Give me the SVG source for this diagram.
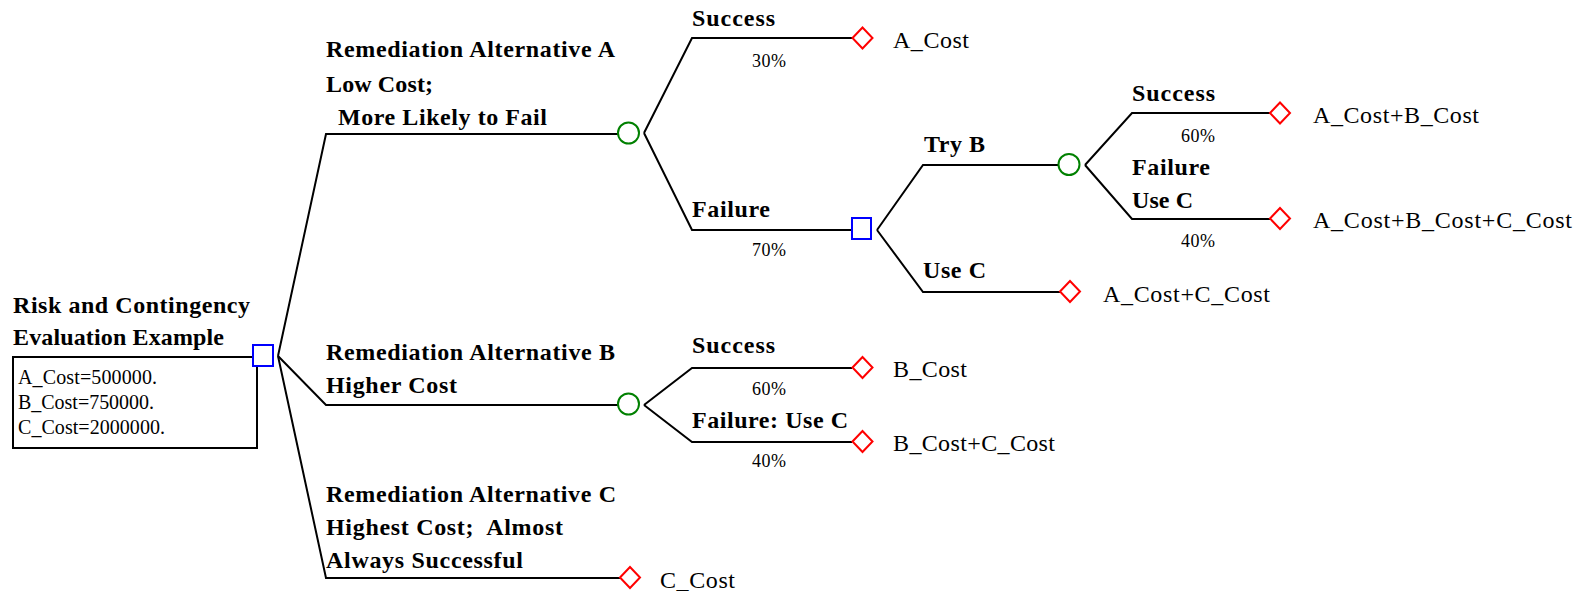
<svg xmlns="http://www.w3.org/2000/svg" width="1584" height="591" viewBox="0 0 1584 591">
<style>
.bg{fill:#ffffff}
.ln{fill:none;stroke:#000000;stroke-width:2}
.dec{fill:#ffffff;stroke:#0000ff;stroke-width:2}
.chn{fill:#ffffff;stroke:#008000;stroke-width:2}
.trm{fill:#ffffff;stroke:#ff0000;stroke-width:2}
.box{fill:#ffffff;stroke:#000000;stroke-width:2}
.b{font-family:"Liberation Serif","Times New Roman",serif;font-weight:bold;font-size:24px;fill:#000000;white-space:pre}
.r{font-family:"Liberation Serif","Times New Roman",serif;font-size:24px;fill:#000000}
.p{font-family:"Liberation Serif","Times New Roman",serif;font-size:18px;fill:#000000}
.v{font-family:"Liberation Serif","Times New Roman",serif;font-size:20px;fill:#000000}
</style>
<defs>
<polygon id="dia" points="-10,0 0,-10.5 10,0 0,10.5"/>
</defs>
<rect class="bg" x="0" y="0" width="1584" height="591"/>

<g id="connectors">
<polyline class="ln" points="278,356 326,134 618,134"/>
<polyline class="ln" points="278,356 326,405 618,405"/>
<polyline class="ln" points="278,356 326,578 620,578"/>
<polyline class="ln" points="644,133 692,38 852,38"/>
<polyline class="ln" points="644,133 692,230 851,230"/>
<polyline class="ln" points="877,230 923,165 1058,165"/>
<polyline class="ln" points="877,230 923,292 1060,292"/>
<polyline class="ln" points="1085,165 1132,113 1270,113"/>
<polyline class="ln" points="1085,165 1132,219 1270,219"/>
<polyline class="ln" points="644,405 692,368 852,368"/>
<polyline class="ln" points="644,405 692,442 852,442"/>
</g>

<g id="branch-labels">
<text class="b" x="326" y="57" textLength="289" lengthAdjust="spacing">Remediation Alternative A</text>
<text class="b" x="326" y="92" textLength="107" lengthAdjust="spacing">Low Cost;</text>
<text class="b" x="338" y="125" textLength="209" lengthAdjust="spacing">More Likely to Fail</text>
<text class="b" x="326" y="360" textLength="289" lengthAdjust="spacing">Remediation Alternative B</text>
<text class="b" x="326" y="393" textLength="131" lengthAdjust="spacing">Higher Cost</text>
<text class="b" x="326" y="502" textLength="290" lengthAdjust="spacing">Remediation Alternative C</text>
<text class="b" x="326" y="535" textLength="237" lengthAdjust="spacing">Highest Cost;  Almost</text>
<text class="b" x="326" y="568" textLength="197" lengthAdjust="spacing">Always Successful</text>
<text class="b" x="692" y="26" textLength="83" lengthAdjust="spacing">Success</text>
<text class="p" x="752" y="67" textLength="34" lengthAdjust="spacing">30%</text>
<text class="b" x="692" y="217" textLength="78" lengthAdjust="spacing">Failure</text>
<text class="p" x="752" y="256" textLength="34" lengthAdjust="spacing">70%</text>
<text class="b" x="924" y="152" textLength="61" lengthAdjust="spacing">Try B</text>
<text class="b" x="923" y="278" textLength="63" lengthAdjust="spacing">Use C</text>
<text class="b" x="1132" y="101" textLength="83" lengthAdjust="spacing">Success</text>
<text class="p" x="1181" y="142" textLength="34" lengthAdjust="spacing">60%</text>
<text class="b" x="1132" y="175" textLength="78" lengthAdjust="spacing">Failure</text>
<text class="b" x="1132" y="208" textLength="61" lengthAdjust="spacing">Use C</text>
<text class="p" x="1181" y="247" textLength="34" lengthAdjust="spacing">40%</text>
<text class="b" x="692" y="353" textLength="83" lengthAdjust="spacing">Success</text>
<text class="p" x="752" y="395" textLength="34" lengthAdjust="spacing">60%</text>
<text class="b" x="692" y="428" textLength="156" lengthAdjust="spacing">Failure: Use C</text>
<text class="p" x="752" y="467" textLength="34" lengthAdjust="spacing">40%</text>
</g>

<g id="root">
<text class="b" x="13" y="313" textLength="237" lengthAdjust="spacing">Risk and Contingency</text>
<text class="b" x="13" y="345" textLength="211" lengthAdjust="spacing">Evaluation Example</text>
<rect class="box" x="13" y="357" width="244" height="91"/>
<text class="v" x="18" y="384" textLength="139" lengthAdjust="spacing">A_Cost=500000.</text>
<text class="v" x="18" y="409" textLength="136" lengthAdjust="spacing">B_Cost=750000.</text>
<text class="v" x="18" y="434" textLength="147" lengthAdjust="spacing">C_Cost=2000000.</text>
<rect class="dec" x="253" y="345" width="20" height="21"/>
</g>

<g id="chance-A"><circle class="chn" cx="628.5" cy="133" r="10.5"/></g>
<g id="term-A-success"><use href="#dia" class="trm" x="862.5" y="38"/><text class="r" x="893" y="48" textLength="76" lengthAdjust="spacing">A_Cost</text></g>
<g id="decision-A-failure"><rect class="dec" x="852" y="218" width="19" height="21"/></g>
<g id="chance-tryB"><circle class="chn" cx="1069" cy="164.5" r="10.5"/></g>
<g id="term-AB"><use href="#dia" class="trm" x="1280" y="113"/><text class="r" x="1313" y="123" textLength="166" lengthAdjust="spacing">A_Cost+B_Cost</text></g>
<g id="term-ABC"><use href="#dia" class="trm" x="1280" y="218.5"/><text class="r" x="1313" y="228" textLength="259" lengthAdjust="spacing">A_Cost+B_Cost+C_Cost</text></g>
<g id="term-AC"><use href="#dia" class="trm" x="1070" y="291.5"/><text class="r" x="1103" y="302" textLength="167" lengthAdjust="spacing">A_Cost+C_Cost</text></g>
<g id="chance-B"><circle class="chn" cx="628.5" cy="404" r="10.5"/></g>
<g id="term-B"><use href="#dia" class="trm" x="862.5" y="367.5"/><text class="r" x="893" y="377" textLength="74" lengthAdjust="spacing">B_Cost</text></g>
<g id="term-BC"><use href="#dia" class="trm" x="862.5" y="441.5"/><text class="r" x="893" y="451" textLength="162" lengthAdjust="spacing">B_Cost+C_Cost</text></g>
<g id="term-C"><use href="#dia" class="trm" x="630" y="577.5"/><text class="r" x="660" y="588" textLength="75" lengthAdjust="spacing">C_Cost</text></g>
</svg>
